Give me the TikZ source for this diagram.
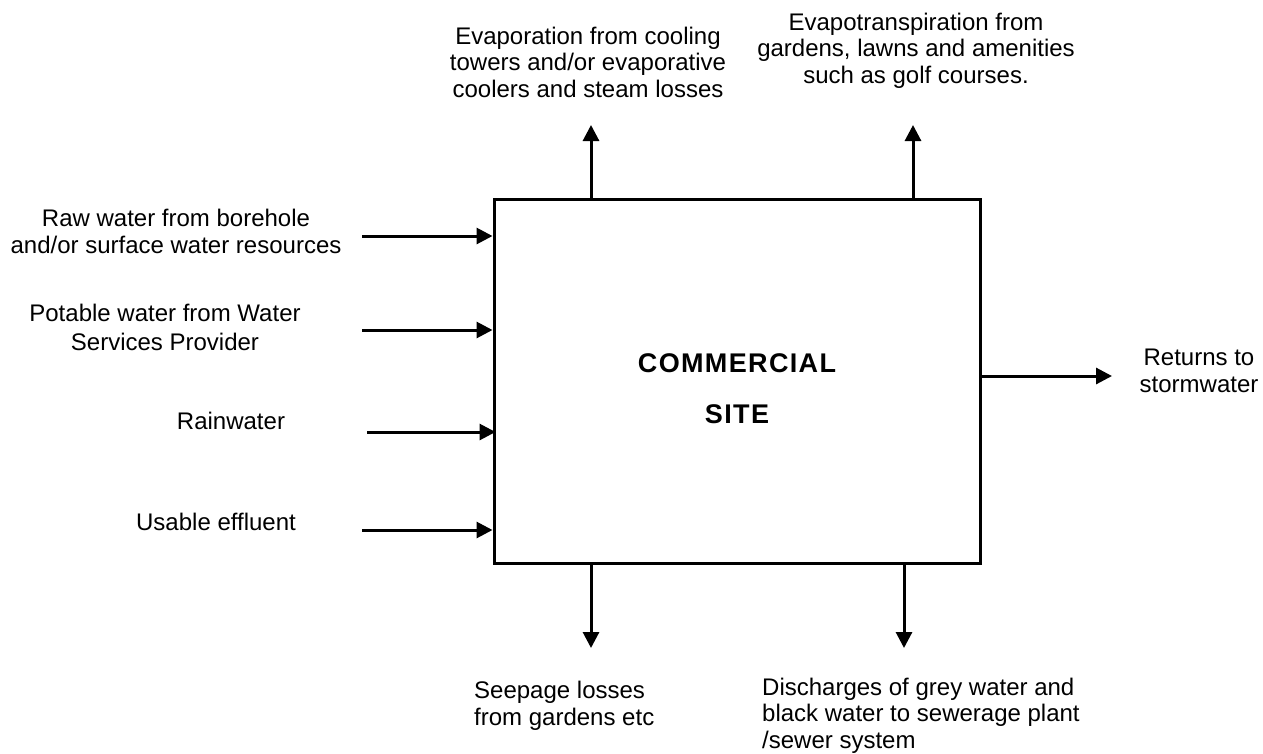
\documentclass[tikz,border=0pt]{standalone}
\usepackage{fontspec}
\setmainfont{Liberation Sans}
\usetikzlibrary{arrows.meta}
\tikzset{
  flow/.style={line width=3pt,-{Triangle[length=16pt,width=16pt]}},
  sitebox/.style={draw,line width=3pt,minimum width=486pt,minimum height=364pt,inner sep=0pt},
  lbl/.style={inner sep=0pt,align=center,anchor=base,font=\fontsize{24}{26.5}\selectfont},
  lbll/.style={inner sep=0pt,align=left,anchor=base west,font=\fontsize{24}{26.5}\selectfont},
  title/.style={inner sep=0pt,anchor=base,font=\fontsize{27}{27}\selectfont\bfseries\addfontfeature{LetterSpace=5}}
}
\begin{document}
\begin{tikzpicture}[x=1pt,y=-1pt]
\useasboundingbox (0,0) rectangle (1263,753);
\node[sitebox] (site) at (737,381) {};
\node[title] (t1) at (737,372) {COMMERCIAL};
\node[title] (t2) at (737,423) {SITE};
% inputs
\coordinate (i1) at (362,236);
\coordinate (i2) at (362,330);
\coordinate (i3) at (367,432);
\coordinate (i4) at (362,530);
\draw[flow] (i1) -- (i1 -| site.west);
\draw[flow] (i2) -- (i2 -| site.west);
\draw[flow] (i3) -- ([xshift=3pt]i3 -| site.west);
\draw[flow] (i4) -- (i4 -| site.west);
\node[lbl] (l1) at (176,253) {Raw water from borehole\\and/or surface water resources};
\node[lbl,font=\fontsize{24}{29}\selectfont] (l2) at (165,350) {Potable water from Water\\Services Provider};
\node[lbl] (l3) at (231,429) {Rainwater};
\node[lbl] (l4) at (216,530) {Usable effluent};
% top outputs
\coordinate (o1) at (591,125);
\coordinate (o2) at (913,125);
\draw[flow] (o1 |- site.north) -- (o1);
\draw[flow] (o2 |- site.north) -- (o2);
\node[lbl] (l5) at (588,97) {Evaporation from cooling\\towers and/or evaporative\\coolers and steam losses};
\node[lbl] (l6) at (916,83) {Evapotranspiration from\\gardens, lawns and amenities\\such as golf courses.};
% right output
\coordinate (o3) at (1112,376);
\draw[flow] (o3 -| site.east) -- (o3);
\node[lbl] (l7) at (1199,392) {Returns to\\stormwater};
% bottom outputs
\coordinate (o4) at (591,648);
\coordinate (o5) at (904,648);
\draw[flow] (o4 |- site.south) -- (o4);
\draw[flow] (o5 |- site.south) -- (o5);
\node[lbll] (l8) at (474,725) {Seepage losses\\from gardens etc};
\node[lbll] (l9) at (762,748) {Discharges of grey water and\\black water to sewerage plant\\/sewer system};
\end{tikzpicture}
\end{document}
